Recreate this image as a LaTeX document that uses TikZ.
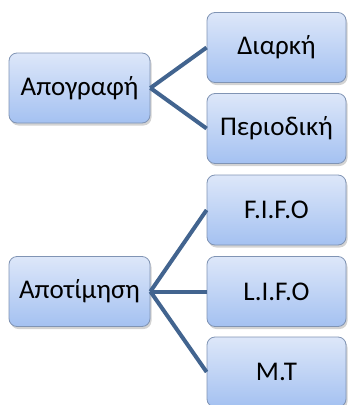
\documentclass[tikz,border=0pt]{standalone}
\usepackage{fontspec}
\setmainfont{Carlito}
\usetikzlibrary{shadows}
\definecolor{linec}{HTML}{42648F}
\definecolor{boxtop}{HTML}{DDE7F9}
\definecolor{boxbot}{HTML}{A4C1F1}
\definecolor{boxline}{HTML}{8094B4}
\tikzset{
  box/.style={draw=boxline, line width=0.8pt, rounded corners=8pt,
    top color=boxtop, bottom color=boxbot, minimum width=139pt, minimum height=70pt,
    inner sep=0pt, font=\fontsize{27}{31}\selectfont,
    drop shadow={opacity=0.35, shadow xshift=1.5pt, shadow yshift=-2.5pt}},
  conn/.style={draw=linec, line width=4pt}
}
\begin{document}
\begin{tikzpicture}[x=1pt,y=-1pt]
\useasboundingbox (0,0) rectangle (348,405);
\node[box, minimum width=141pt] (apog) at (79.5,88) {Απογραφή};
\node[box] (diar) at (276.5,47.5) {Διαρκή};
\node[box] (peri) at (276.5,128.5) {Περιοδική};
\node[box, minimum width=141pt] (apot) at (79.5,291.5) {Αποτίμηση};
\node[box] (fifo) at (276.5,210) {F.I.F.O};
\node[box] (lifo) at (276.5,291.5) {L.I.F.O};
\node[box] (mt) at (276.5,372) {M.T};
\draw[conn] (apog.east) -- (diar.west);
\draw[conn] (apog.east) -- (peri.west);
\draw[conn] (apot.east) -- (fifo.west);
\draw[conn] (apot.east) -- (lifo.west);
\draw[conn] (apot.east) -- (mt.west);
\end{tikzpicture}
\end{document}
